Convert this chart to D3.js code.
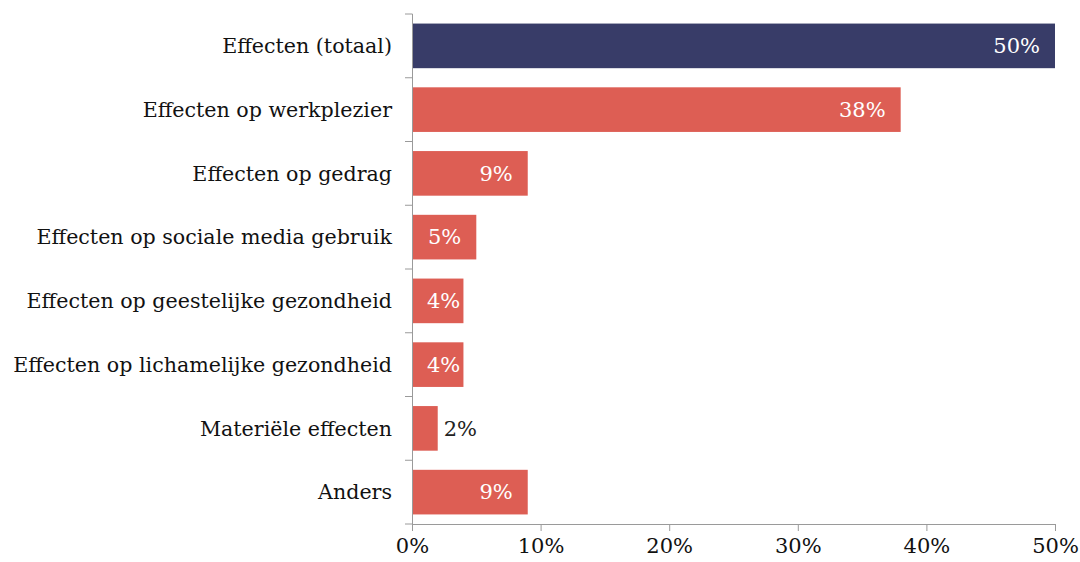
<!DOCTYPE html>
<html>
<head>
<meta charset="utf-8">
<script src="https://cdn.jsdelivr.net/npm/d3@7"></script>
<style>
    body { margin: 0; background: #fff; }
    text { font-family: "DejaVu Serif", serif; }
</style>
</head>
<body>
<div id="chart"></div>
<script>
// data
let categories = ["Effecten (totaal)", "Effecten op werkplezier", "Effecten op gedrag",
    "Effecten op sociale media gebruik", "Effecten op geestelijke gezondheid",
    "Effecten op lichamelijke gezondheid", "Materiële effecten", "Anders"];
let values = [50, 38, 9, 5, 4, 4, 2, 9];
let xTicks = [0, 10, 20, 30, 40, 50];

let width = 1080, height = 562;
let margin = {top: 14, right: 25, bottom: 38, left: 412};

let svg = d3.select("#chart").append("svg")
    .attr("width", width)
    .attr("height", height);

let x = d3.scaleLinear()
    .domain([0, 50])
    .range([margin.left, width - margin.right]);

let y = d3.scaleBand()
    .domain(categories)
    .range([margin.top, height - margin.bottom])
    .paddingInner(0.3)
    .paddingOuter(0.15);

// bars
svg.selectAll(".bar")
    .data(values)
    .enter()
    .append("rect")
    .attr("class", "bar")
    .attr("x", x(0))
    .attr("y", (d, i) => y(categories[i]))
    .attr("width", d => x(d) - x(0))
    .attr("height", y.bandwidth())
    .attr("fill", (d, i) => i === 0 ? "#383c68" : "#dd5e54");

// value labels (inside end, pushed right if bar too short; outside for tiny bars)
svg.selectAll(".val")
    .data(values)
    .enter()
    .append("text")
    .attr("class", "val")
    .attr("y", (d, i) => y(categories[i]) + y.bandwidth() / 2)
    .attr("dy", "0.35em")
    .attr("fill", d => d < 3 ? "#222" : "#fff")
    .style("font-size", "21px")
    .text(d => d + "%")
    .attr("x", function(d) {
        let w = this.getComputedTextLength();
        if (d < 3) return x(d) + 6;
        return Math.max(x(d) - 15 - w, x(0) + 15);
    });

// y axis
let yAxis = svg.append("g")
    .attr("transform", `translate(${margin.left},0)`);
yAxis.append("line")
    .attr("x1", 0.5).attr("x2", 0.5)
    .attr("y1", margin.top).attr("y2", height - margin.bottom)
    .attr("stroke", "#9a9a9a");
let yTickPos = d3.range(categories.length + 1).map(i => margin.top + i * (height - margin.top - margin.bottom) / categories.length);
yAxis.selectAll(".ytick")
    .data(yTickPos)
    .enter()
    .append("line")
    .attr("x1", -7).attr("x2", 0.5)
    .attr("y1", d => d).attr("y2", d => d)
    .attr("stroke", "#9a9a9a");
yAxis.selectAll(".ylab")
    .data(categories)
    .enter()
    .append("text")
    .attr("x", -20)
    .attr("y", d => y(d) + y.bandwidth() / 2)
    .attr("dy", "0.35em")
    .attr("text-anchor", "end")
    .attr("fill", "#111")
    .style("font-size", "20.6px")
    .text(d => d);

// x axis
let xAxis = svg.append("g")
    .attr("transform", `translate(0,${height - margin.bottom})`)
    .call(d3.axisBottom(x).tickValues(xTicks).tickFormat(d => d + "%").tickSize(7).tickSizeOuter(0));
xAxis.select(".domain").attr("stroke", "#9a9a9a");
xAxis.selectAll(".tick line").attr("stroke", "#9a9a9a");
xAxis.selectAll(".tick text")
    .attr("fill", "#111")
    .attr("dy", "0.9em")
    .style("font-size", "21px")
    .style("font-family", "DejaVu Serif, serif");
</script>
</body>
</html>
